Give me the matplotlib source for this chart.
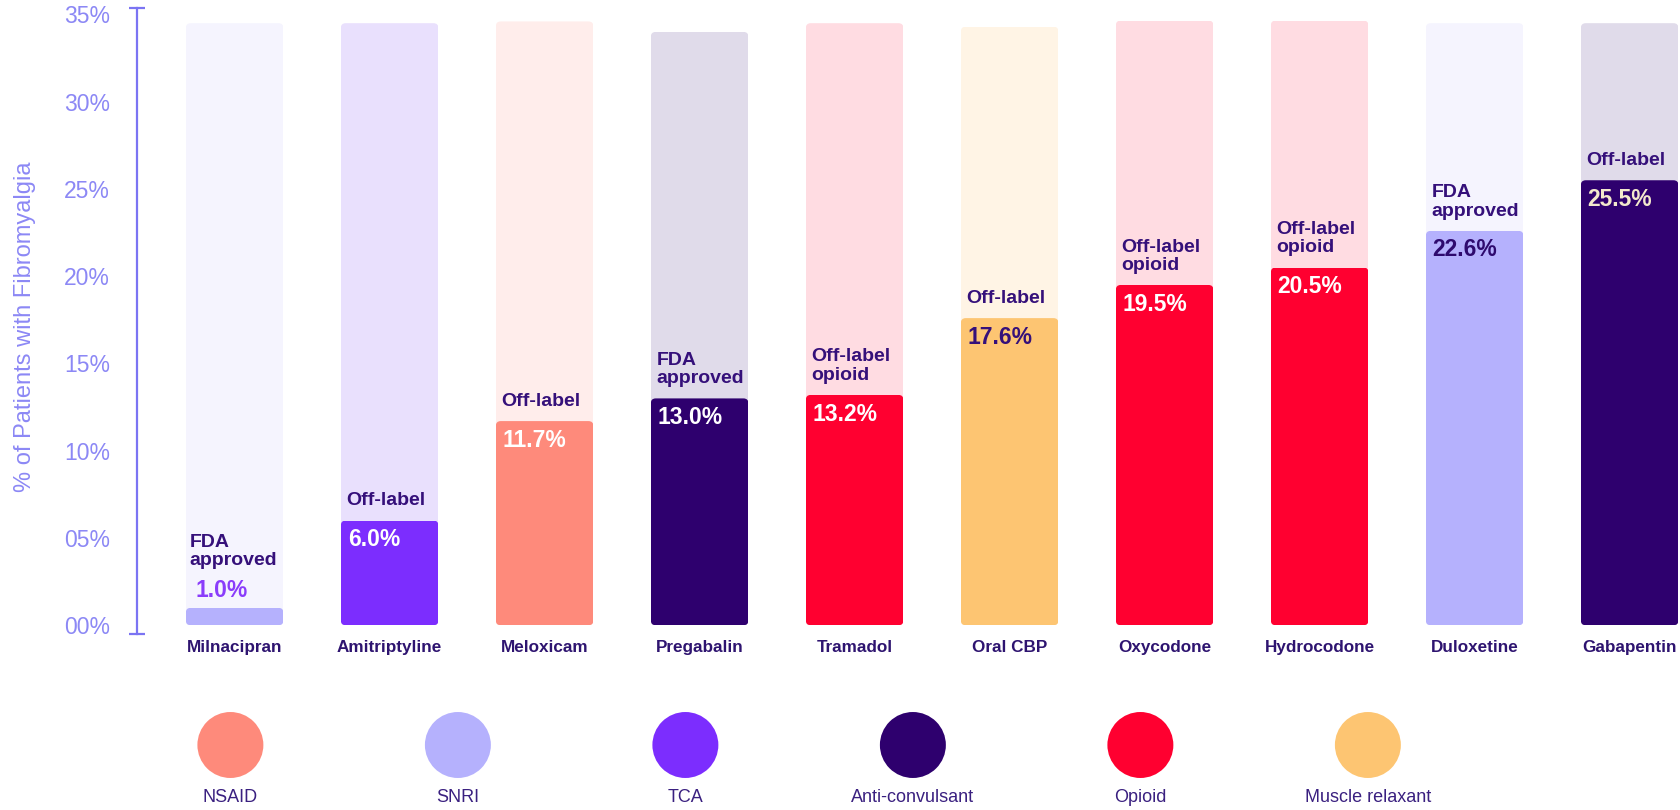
import matplotlib
matplotlib.use("Agg")
import matplotlib.pyplot as plt
from matplotlib.patches import FancyBboxPatch
from matplotlib.ticker import FixedLocator, FixedFormatter

plt.rcParams['font.family'] = ['Liberation Sans', 'DejaVu Sans']

# ---------------- data ----------------
drugs = ["Milnacipran", "Amitriptyline", "Meloxicam", "Pregabalin", "Tramadol",
         "Oral CBP", "Oxycodone", "Hydrocodone", "Duloxetine", "Gabapentin"]
values = [1.0, 6.0, 11.7, 13.0, 13.2, 17.6, 19.5, 20.5, 22.6, 25.5]
bg_heights = [34.5, 34.5, 34.6, 34.0, 34.5, 34.3, 34.65, 34.65, 34.5, 34.5]
drug_class = ["SNRI", "TCA", "NSAID", "Anti-convulsant", "Opioid",
              "Muscle relaxant", "Opioid", "Opioid", "SNRI", "Anti-convulsant"]
status = ["FDA\napproved", "Off-label", "Off-label", "FDA\napproved", "Off-label\nopioid",
          "Off-label", "Off-label\nopioid", "Off-label\nopioid", "FDA\napproved", "Off-label"]
value_colors = ['#8a3cfb', 'white', 'white', 'white', 'white',
                '#35107a', 'white', 'white', '#2e0a6e', '#f3e8cc']
legend_classes = ["NSAID", "SNRI", "TCA", "Anti-convulsant", "Opioid", "Muscle relaxant"]
class_colors = {"NSAID": "#fe8a7b", "SNRI": "#b5b1fd", "TCA": "#7c2dfe",
                "Anti-convulsant": "#2e006e", "Opioid": "#ff0030", "Muscle relaxant": "#fdc572"}
class_bg = {"NSAID": "#ffedeb", "SNRI": "#f5f4fe", "TCA": "#e9e0fd",
            "Anti-convulsant": "#e0dbea", "Opioid": "#ffdce2", "Muscle relaxant": "#fff4e5"}
y_ticks = [0, 5, 10, 15, 20, 25, 30, 35]
y_tick_labels = ["00%", "05%", "10%", "15%", "20%", "25%", "30%", "35%"]
y_label = "% of Patients with Fibromyalgia"

# ---------------- styling ----------------
AXIS_C = '#7b74f3'
TICK_C = '#8c88f5'
DARK = '#35107a'
W = 0.63
Y0, Y1 = -0.5, 35.37

fig = plt.figure(figsize=(16.8, 8.1), dpi=100)
ax = fig.add_axes([137/1680, 176/810, 1 - 137/1680, 626/810])
ax.set_xlim(-0.6297, 9.325)
ax.set_ylim(Y0, Y1)

x = list(range(len(drugs)))
bg_bars = ax.bar(x, bg_heights, width=W, color=[class_bg[c] for c in drug_class], zorder=1)
fg_bars = ax.bar(x, values, width=W, color=[class_colors[c] for c in drug_class], zorder=2)

# rounded corners via clip paths
rx = 0.032
asp = 9.0
for bars in (bg_bars, fg_bars):
    for r in bars:
        clip = FancyBboxPatch((r.get_x(), r.get_y()), r.get_width(), r.get_height(),
                              boxstyle=f"round,pad=0,rounding_size={rx}",
                              mutation_aspect=asp, facecolor='none', edgecolor='none',
                              transform=ax.transData)
        ax.add_patch(clip)
        r.set_clip_path(clip)

# annotations
for i, (v, s, vc) in enumerate(zip(values, status, value_colors)):
    left = i - W / 2
    if v < 3:
        ax.annotate(f"{v:.1f}%", xy=(left, v), xytext=(7, 4), textcoords='offset points',
                    ha='left', va='bottom', fontsize=16.5, fontweight='bold', color=vc)
        ax.annotate(s, xy=(left, v), xytext=(2.5, 28), textcoords='offset points',
                    ha='left', va='bottom', fontsize=14, fontweight='bold', color=DARK,
                    linespacing=1.1)
    else:
        ax.annotate(f"{v:.1f}%", xy=(left, v), xytext=(5, -5.5), textcoords='offset points',
                    ha='left', va='top', fontsize=16.5, fontweight='bold', color=vc, zorder=5)
        ax.annotate(s, xy=(left, v), xytext=(4, 8), textcoords='offset points',
                    ha='left', va='bottom', fontsize=14, fontweight='bold', color=DARK,
                    linespacing=1.1, zorder=5)

# axes styling
for sp in ['top', 'right', 'bottom']:
    ax.spines[sp].set_visible(False)
ax.spines['left'].set_color(AXIS_C)
ax.spines['left'].set_linewidth(1.6)

ax.yaxis.set_major_locator(FixedLocator(y_ticks))
ax.yaxis.set_major_formatter(FixedFormatter(y_tick_labels))
ax.yaxis.set_minor_locator(FixedLocator([Y0] + y_ticks[1:-1] + [Y1]))
ax.tick_params(axis='y', which='major', length=0, pad=19.4, labelsize=16.5, labelcolor=TICK_C)
ax.tick_params(axis='y', which='minor', direction='inout', length=11.5, width=1.6, color=AXIS_C)
ax.set_ylabel(y_label, fontsize=17, color=TICK_C)
ax.yaxis.set_label_coords(-(137 - 36) / (1680 - 137), (810 - 327 - 176) / 626)

ax.set_xticks(x)
ax.set_xticklabels(drugs, fontsize=12.3, fontweight='bold', color='#2e1470')
ax.tick_params(axis='x', length=0, pad=4)

# legend
lax = fig.add_axes([0, 0, 1, 0.2])
lax.set_xlim(-1.0127, 6.372)
lax.set_ylim(0, 162)
lax.axis('off')
lx = list(range(len(legend_classes)))
lax.scatter(lx, [65] * len(lx), s=47.5 ** 2, c=[class_colors[c] for c in legend_classes],
            edgecolors='none')
for i, c in enumerate(legend_classes):
    lax.text(i, 12, c, ha='center', va='center', fontsize=13, color='#3a2080')

fig.savefig("out.png", dpi=100)
